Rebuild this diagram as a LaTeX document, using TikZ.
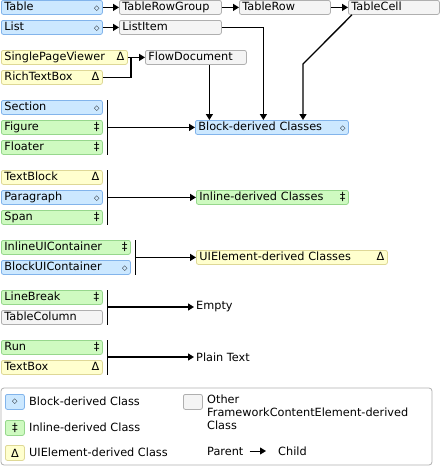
\documentclass[tikz,border=0pt]{standalone}
\usepackage{fontspec}
\setmainfont{DejaVu Sans}
\usetikzlibrary{arrows.meta}
\definecolor{blkfill}{RGB}{204,232,255}
\definecolor{blkline}{RGB}{130,180,235}
\definecolor{inlfill}{RGB}{206,250,192}
\definecolor{inlline}{RGB}{150,215,140}
\definecolor{uifill}{RGB}{255,255,206}
\definecolor{uiline}{RGB}{222,216,150}
\definecolor{othfill}{RGB}{244,244,244}
\definecolor{othline}{RGB}{175,175,175}
\newcommand{\blksym}{{\fontsize{7}{8}\selectfont ◇}}
\newcommand{\inlsym}{‡}
\newcommand{\uisym}{Δ}
\begin{document}
\begin{tikzpicture}
[x=1pt,y=-1pt,font=\fontsize{11.3}{13}\selectfont,
cls/.style={draw,rounded corners=2pt,anchor=north west,minimum height=14pt,line width=0.8pt,
  inner xsep=3pt,inner ysep=0pt,text height=8.2pt,text depth=2.3pt,align=left},
blkcls/.style={cls,fill=blkfill,draw=blkline,text width=#1},
inlcls/.style={cls,fill=inlfill,draw=inlline,text width=#1},
uicls/.style={cls,fill=uifill,draw=uiline,text width=#1},
othcls/.style={cls,fill=othfill,draw=othline,text width=#1},
swatch/.style={draw,rounded corners=2pt,line width=0.8pt,minimum width=19pt,minimum height=15pt,
  inner sep=0pt,anchor=north west},
lbl/.style={anchor=west,inner sep=2pt},
arr/.style={line width=1.3pt,-{Triangle[length=6pt,width=7pt]}},
bar/.style={line width=1.3pt}]
\useasboundingbox (0,0) rectangle (440,466);

% top row
\node (table) at (1,0) [blkcls=95] {Table\hfill\blksym};
\node (list) at (1,20) [blkcls=95] {List\hfill\blksym};
\node (rowgroup) at (119,0) [othcls=96] {TableRowGroup};
\node (row) at (239,0) [othcls=85] {TableRow};
\node (cell) at (348,0) [othcls=85] {TableCell};
\node (listitem) at (119,20) [othcls=96] {ListItem};
\node (viewer) at (1,50) [uicls=120] {SinglePageViewer\hfill\uisym};
\node (rtb) at (1,70) [uicls=95] {RichTextBox\hfill\uisym};
\node (flowdoc) at (145,50) [othcls=95] {FlowDocument};
\coordinate (join) at (131,57);
\coordinate (bend) at (303,64);

% groups on the left
\node (section) at (1,100) [blkcls=95] {Section\hfill\blksym};
\node (figure) at (1,120) [inlcls=95] {Figure\hfill\inlsym};
\node (floater) at (1,140) [inlcls=95] {Floater\hfill\inlsym};
\node (textblock) at (1,170) [uicls=95] {TextBlock\hfill\uisym};
\node (paragraph) at (1,190) [blkcls=95] {Paragraph\hfill\blksym};
\node (span) at (1,210) [inlcls=95] {Span\hfill\inlsym};
\node (inlineui) at (1,240) [inlcls=123] {InlineUIContainer\hfill\inlsym};
\node (blockui) at (1,260) [blkcls=123] {BlockUIContainer\hfill\blksym};
\node (linebreak) at (1,290) [inlcls=95] {LineBreak\hfill\inlsym};
\node (tablecol) at (1,310) [othcls=95] {TableColumn};
\node (run) at (1,340) [inlcls=95] {Run\hfill\inlsym};
\node (textbox) at (1,360) [uicls=95] {TextBox\hfill\uisym};

% targets
\node (block) at (195,120) [blkcls=147] {Block-derived Classes\hfill\blksym};
\node (inline) at (196,190) [inlcls=146] {Inline-derived Classes\hfill\inlsym};
\node (uielem) at (196,250) [uicls=185] {UIElement-derived Classes\hfill\uisym};
\node (empty) at (194,307) [lbl] {Empty};
\node (plain) at (194,357) [lbl] {Plain Text};

\draw[arr] (table) -- (rowgroup);
\draw[arr] (rowgroup) -- (row);
\draw[arr] (row) -- (cell);
\draw[arr] (list) -- (listitem);
\draw[arr] (viewer) -- (flowdoc);
\draw[bar] (rtb.east) -| (join);
\draw[arr] (listitem.east) -| ([xshift=-8.5pt]block.north);
\draw[arr] ([xshift=13.5pt]flowdoc.south) -- ([xshift=13.5pt]flowdoc.south |- block.north);
\draw[arr] ([xshift=4pt]cell.south west) -- (bend) -- (bend |- block.north);

\draw[bar] ([xshift=5pt]section.north east) -- ([xshift=5pt]floater.south east);
\draw[arr] ([xshift=5pt]figure.east) -- (block);
\draw[bar] ([xshift=5pt]textblock.north east) -- ([xshift=5pt]span.south east);
\draw[arr] ([xshift=5pt]paragraph.east) -- (inline);
\coordinate (uibar) at ([xshift=5pt]inlineui.east);
\draw[bar] ([xshift=5pt]inlineui.north east) -- ([xshift=5pt]blockui.south east);
\draw[arr] (uibar |- uielem.west) -- (uielem.west);
\coordinate (ebar) at ([xshift=5pt]linebreak.east);
\draw[bar] ([xshift=5pt]linebreak.north east) -- ([xshift=5pt]tablecol.south east);
\draw[arr] (ebar |- empty.west) -- (empty.west);
\coordinate (pbar) at ([xshift=5pt]run.east);
\draw[bar] ([xshift=5pt]run.north east) -- ([xshift=5pt]textbox.south east);
\draw[arr] (pbar |- plain.west) -- (plain.west);

% legend
\draw[draw=othline,line width=0.8pt,rounded corners=3pt] (1,388) rectangle (432,465);
\node (kblk) at (5,394) [swatch,fill=blkfill,draw=blkline] {\blksym};
\node (kinl) at (5,420) [swatch,fill=inlfill,draw=inlline] {\inlsym};
\node (kui) at (5,445) [swatch,fill=uifill,draw=uiline] {\uisym};
\node (koth) at (183,394) [swatch,fill=othfill,draw=othline] {};
\node at (27,401) [lbl] {Block-derived Class};
\node at (27,427) [lbl] {Inline-derived Class};
\node at (27,452) [lbl] {UIElement-derived Class};
\node at (205,393) [anchor=north west,inner sep=2pt,align=left] {Other\\FrameworkContentElement-derived\\Class};
\node (parent) at (205,451) [lbl] {Parent};
\node (child) at (276,451) [lbl] {Child};
\draw[arr,line width=1pt] ([xshift=4pt]parent.east) -- ([xshift=-10pt]child.west);
\end{tikzpicture}
\end{document}
